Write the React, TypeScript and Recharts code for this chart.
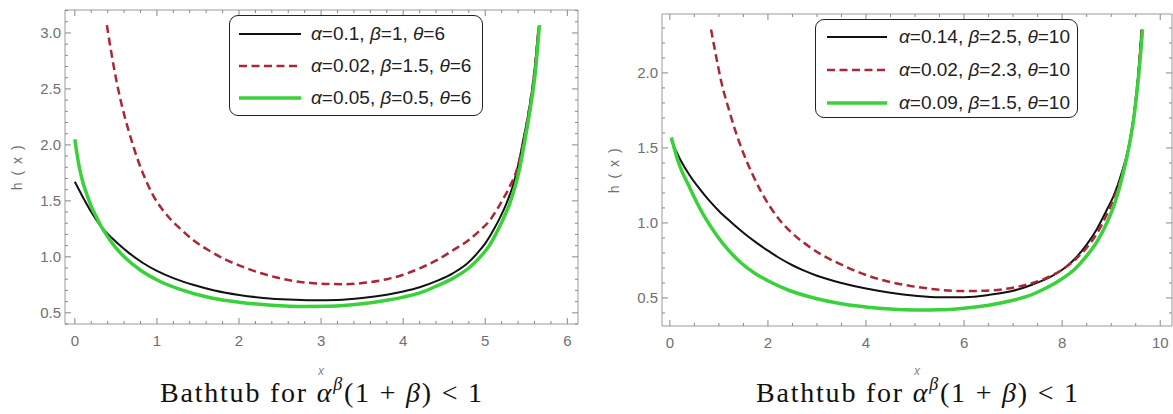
import React from 'react';
import { LineChart, Line, XAxis, YAxis, Legend } from 'recharts';

// ---- left panel, theta = 6 ----
const leftBlack = [
  [0, 1.67], [0.1, 1.53], [0.2, 1.4], [0.3, 1.29], [0.4, 1.205], [0.5, 1.135], [0.65, 1.04],
  [0.83, 0.945], [1.0, 0.875], [1.2, 0.81], [1.44, 0.75], [1.7, 0.7], [2.0, 0.66], [2.3, 0.633],
  [2.6, 0.618], [2.9, 0.612], [3.2, 0.615], [3.5, 0.632], [3.8, 0.662], [4.0, 0.69], [4.21, 0.73],
  [4.41, 0.785], [4.61, 0.855], [4.78, 0.94], [4.9, 1.03], [5.0, 1.12], [5.1, 1.24], [5.18, 1.35],
  [5.26, 1.48], [5.33, 1.62], [5.39, 1.78], [5.47, 2.07], [5.53, 2.3], [5.59, 2.6], [5.65, 3.05],
];
const leftRed = [
  [0.39, 3.07], [0.45, 2.8], [0.51, 2.56], [0.58, 2.33], [0.65, 2.14], [0.72, 1.97], [0.8, 1.8],
  [0.88, 1.66], [0.96, 1.54], [1.06, 1.43], [1.16, 1.34], [1.3, 1.24], [1.44, 1.15], [1.65, 1.05],
  [1.85, 0.97], [2.05, 0.91], [2.26, 0.855], [2.46, 0.815], [2.66, 0.785], [2.85, 0.768], [3.05, 0.758],
  [3.3, 0.756], [3.55, 0.77], [3.8, 0.8], [4.0, 0.84], [4.21, 0.9], [4.41, 0.97], [4.61, 1.06],
  [4.8, 1.15], [4.94, 1.24], [5.05, 1.32], [5.14, 1.42], [5.22, 1.52], [5.3, 1.63], [5.39, 1.79],
  [5.47, 2.05], [5.53, 2.3], [5.59, 2.6], [5.65, 3.05],
];
const leftGreen = [
  [0, 2.05], [0.03, 1.9], [0.06, 1.78], [0.1, 1.66], [0.15, 1.55], [0.2, 1.45], [0.26, 1.36],
  [0.33, 1.26], [0.4, 1.18], [0.5, 1.08], [0.63, 0.98], [0.8, 0.88], [1.04, 0.78], [1.3, 0.705],
  [1.65, 0.635], [2.0, 0.595], [2.4, 0.568], [2.8, 0.557], [3.1, 0.558], [3.5, 0.58], [3.8, 0.612],
  [4.0, 0.64], [4.21, 0.68], [4.41, 0.74], [4.61, 0.81], [4.8, 0.9], [4.94, 1.0], [5.05, 1.1],
  [5.14, 1.22], [5.22, 1.34], [5.3, 1.48], [5.36, 1.62], [5.41, 1.76], [5.49, 2.07], [5.55, 2.33],
  [5.61, 2.65], [5.66, 3.07],
];

// ---- right panel, theta = 10 ----
const rightBlack = [
  [0.03, 1.55], [0.2, 1.43], [0.4, 1.32], [0.6, 1.23], [0.8, 1.15], [1.0, 1.08], [1.25, 1.005],
  [1.5, 0.935], [1.75, 0.872], [2.0, 0.815], [2.25, 0.763], [2.5, 0.718], [2.75, 0.68], [3.0, 0.648],
  [3.5, 0.6], [4.0, 0.563], [4.5, 0.535], [5.0, 0.515], [5.5, 0.504], [6.0, 0.505], [6.5, 0.52],
  [7.0, 0.548], [7.4, 0.59], [7.76, 0.64], [8.05, 0.7], [8.3, 0.775], [8.5, 0.855], [8.71, 0.96],
  [8.9, 1.08], [9.05, 1.18], [9.2, 1.32], [9.35, 1.5], [9.45, 1.69], [9.54, 1.95], [9.62, 2.29],
];
const rightRed = [
  [0.84, 2.29], [0.95, 2.1], [1.05, 1.94], [1.2, 1.76], [1.33, 1.62], [1.5, 1.465], [1.67, 1.335],
  [1.85, 1.215], [2.05, 1.105], [2.25, 1.015], [2.5, 0.93], [2.8, 0.852], [3.1, 0.787], [3.5, 0.722],
  [3.8, 0.678], [4.3, 0.622], [4.8, 0.586], [5.3, 0.562], [5.9, 0.546], [6.4, 0.548], [6.94, 0.565],
  [7.4, 0.6], [7.76, 0.645], [8.05, 0.7], [8.3, 0.765], [8.5, 0.835], [8.71, 0.93], [8.9, 1.05],
  [9.05, 1.16], [9.2, 1.3], [9.35, 1.49], [9.45, 1.68], [9.54, 1.95], [9.62, 2.29],
];
const rightGreen = [
  [0.03, 1.57], [0.15, 1.43], [0.25, 1.34], [0.37, 1.26], [0.5, 1.17], [0.71, 1.04], [0.95, 0.92],
  [1.19, 0.82], [1.45, 0.735], [1.73, 0.665], [2.0, 0.615], [2.41, 0.553], [3.0, 0.495], [3.44, 0.465],
  [4.0, 0.44], [4.5, 0.426], [5.0, 0.42], [5.5, 0.421], [6.0, 0.432], [6.5, 0.452], [7.0, 0.485],
  [7.28, 0.51], [7.6, 0.555], [7.96, 0.62], [8.25, 0.69], [8.5, 0.78], [8.72, 0.88], [8.91, 1.0],
  [9.05, 1.11], [9.18, 1.25], [9.28, 1.38], [9.37, 1.52], [9.47, 1.72], [9.56, 1.98], [9.64, 2.29],
];

const leftNames = ['α=0.1, β=1, θ=6', 'α=0.02, β=1.5, θ=6', 'α=0.05, β=0.5, θ=6'];
const rightNames = ['α=0.14, β=2.5, θ=10', 'α=0.02, β=2.3, θ=10', 'α=0.09, β=1.5, θ=10'];

const leftXMajor = [0, 1, 2, 3, 4, 5, 6];
const leftYMajor = [0.5, 1.0, 1.5, 2.0, 2.5, 3.0];
const rightXMajor = [0, 2, 4, 6, 8, 10];
const rightYMajor = [0.5, 1.0, 1.5, 2.0];

const styles = [
  { color: '#111', width: 2, dash: undefined },
  { color: '#a8283a', width: 2.5, dash: '8 4.5' },
  { color: '#3ad13a', width: 3.5, dash: undefined },
];

const FRAME = '#9a9a9a';
const TICK = '#888';
const LABEL = '#707070';
const SANS = 'Liberation Sans, Arial, sans-serif';
const W = 1173;
const H = 414;

const steps = (a: number, b: number, s: number) => {
  const out: number[] = [];
  for (let v = a; v <= b + 1e-9; v += s) out.push(Math.round(v * 100) / 100);
  return out;
};

const toPts = (arr: number[][]) => arr.map(([x, y]) => ({ x, y }));

const fancy = (s: string) =>
  s.split(/([αβθ])/).map((p, i) =>
    /[αβθ]/.test(p) ? <i key={i}>{p}</i> : <span key={i}>{p}</span>
  );

const makeTick = (side: string, majors: number[], fmt: (v: number) => string) => (props: any) => {
  const { x, y, payload } = props;
  const v = payload.value;
  const major = majors.some((m) => Math.abs(m - v) < 1e-6);
  const len = major ? 6 : 3;
  let line;
  let label = null;
  if (side === 'bottom') {
    line = <line x1={x} y1={y} x2={x} y2={y - len} stroke={TICK} />;
    if (major) label = <text x={x} y={y + 22} textAnchor="middle" fill={LABEL} fontSize={15} fontFamily={SANS}>{fmt(v)}</text>;
  } else if (side === 'top') {
    line = <line x1={x} y1={y} x2={x} y2={y + len} stroke={TICK} />;
  } else if (side === 'left') {
    line = <line x1={x} y1={y} x2={x + len} y2={y} stroke={TICK} />;
    if (major) label = <text x={x - 4} y={y + 5} textAnchor="end" fill={LABEL} fontSize={15} fontFamily={SANS}>{fmt(v)}</text>;
  } else {
    line = <line x1={x} y1={y} x2={x - len} y2={y} stroke={TICK} />;
  }
  return <g>{line}{label}</g>;
};

type PanelProps = {
  left: number;
  width: number;
  plot: { l: number; r: number; t: number; b: number };
  xDomain: [number, number];
  yDomain: [number, number];
  xMajor: number[];
  yMajor: number[];
  xMinor: number[];
  yMinor: number[];
  series: number[][][];
  names: string[];
  legend: { left: number; top: number; w: number; h: number; rows: number[]; sampleL: number; sampleR: number; textL: number };
};

const Panel = (p: PanelProps) => {
  const xFmt = (v: number) => String(v);
  const yFmt = (v: number) => v.toFixed(1);
  const margin = { top: p.plot.t - 1, right: p.width - p.plot.r - 1, bottom: H - p.plot.b - 30, left: p.plot.l - 40 };
  const lg = p.legend;
  const renderLegend = () => (
    <div style={{ width: lg.w, height: lg.h, border: '1.6px solid #222', borderRadius: 9, background: '#fff', boxSizing: 'border-box', position: 'relative' }}>
      {p.names.map((n, i) => (
        <div key={n} style={{ position: 'absolute', left: 0, top: lg.rows[i] - 14, height: 28, width: lg.w - 4 }}>
          <svg width={lg.w - 4} height={28} style={{ position: 'absolute', left: 0, top: 0 }}>
            <line x1={lg.sampleL} x2={lg.sampleR} y1={14} y2={14} stroke={styles[i].color} strokeWidth={styles[i].width} strokeDasharray={styles[i].dash} />
          </svg>
          <span style={{ position: 'absolute', left: lg.textL, top: 3, fontFamily: SANS, fontSize: 19, lineHeight: '22px', color: '#222', whiteSpace: 'nowrap' }}>{fancy(n)}</span>
        </div>
      ))}
    </div>
  );
  return (
    <div style={{ position: 'absolute', left: p.left, top: 0 }}>
      <LineChart width={p.width} height={H} margin={margin}>
        <XAxis type="number" dataKey="x" domain={p.xDomain} allowDataOverflow ticks={p.xMinor} interval={0}
          height={30} tickSize={0} tickMargin={0} tickLine={false} axisLine={{ stroke: FRAME }}
          tick={makeTick('bottom', p.xMajor, xFmt)} />
        <XAxis xAxisId="top" orientation="top" type="number" dataKey="x" domain={p.xDomain} allowDataOverflow ticks={p.xMinor} interval={0}
          height={1} tickSize={0} tickMargin={0} tickLine={false} axisLine={{ stroke: FRAME }}
          tick={makeTick('top', p.xMajor, xFmt)} />
        <YAxis type="number" domain={p.yDomain} allowDataOverflow ticks={p.yMinor} interval={0}
          width={40} tickSize={0} tickMargin={0} tickLine={false} axisLine={{ stroke: FRAME }}
          tick={makeTick('left', p.yMajor, yFmt)} />
        <YAxis yAxisId="right" orientation="right" type="number" domain={p.yDomain} allowDataOverflow ticks={p.yMinor} interval={0}
          width={1} tickSize={0} tickMargin={0} tickLine={false} axisLine={{ stroke: FRAME }}
          tick={makeTick('right', p.yMajor, yFmt)} />
        {p.series.map((s, i) => (
          <Line key={i} data={toPts(s)} dataKey="y" name={p.names[i]} type="monotone" dot={false}
            stroke={styles[i].color} strokeWidth={styles[i].width} strokeDasharray={styles[i].dash}
            isAnimationActive={false} />
        ))}
        {/* invisible copy so the frame axes on top/right have a series to carry */}
        <Line data={toPts(p.series[0])} dataKey="y" xAxisId="top" yAxisId="right" stroke="none" dot={false}
          legendType="none" isAnimationActive={false} />
        <Legend layout="vertical" align="center" verticalAlign="middle" content={renderLegend}
          wrapperStyle={{ left: lg.left, top: lg.top, width: lg.w, height: lg.h }} />
      </LineChart>
    </div>
  );
};

const Labels = ({ cx, cy, labelX }: { cx: number; cy: number; labelX: number }) => (
  <g>
    <text x={labelX} y={cy} transform={`rotate(-90 ${labelX} ${cy})`} textAnchor="middle" fill={LABEL}
      fontSize={14} fontFamily={SANS} letterSpacing={1.5}>h ( x )</text>
    <text x={cx} y={375} textAnchor="middle" fill="#888" fontSize={12} fontStyle="italic" fontFamily={SANS}>x</text>
    <text x={cx} y={402} textAnchor="middle" fill="#111" fontSize={28} fontFamily="Liberation Serif, Times New Roman, serif"
      textLength={322} lengthAdjust="spacing">
      Bathtub for <tspan fontStyle="italic">α</tspan>
      <tspan fontStyle="italic" fontSize={18} dy={-12}>β</tspan>
      <tspan dy={12}>(1 + </tspan>
      <tspan fontStyle="italic">β</tspan>
      <tspan>) &lt; 1</tspan>
    </text>
  </g>
);

export default function App() {
  return (
    <div style={{ position: 'absolute', left: 0, top: 0, width: W, height: H, background: '#fff' }}>
      <Panel
        left={0} width={590}
        plot={{ l: 65, r: 578, t: 10, b: 324 }}
        xDomain={[-0.12, 6.13]} yDomain={[0.4, 3.205]}
        xMajor={leftXMajor} yMajor={leftYMajor}
        xMinor={steps(0, 6, 0.2)} yMinor={steps(0.4, 3.2, 0.1)}
        series={[leftBlack, leftRed, leftGreen]} names={leftNames}
        legend={{ left: 229, top: 15, w: 254, h: 101, rows: [18, 50, 82], sampleL: 9, sampleR: 71, textL: 81 }}
      />
      <Panel
        left={590} width={583}
        plot={{ l: 72, r: 582, t: 14, b: 326 }}
        xDomain={[-0.16, 10.24]} yDomain={[0.313, 2.393]}
        xMajor={rightXMajor} yMajor={rightYMajor}
        xMinor={steps(0, 10, 0.5)} yMinor={steps(0.4, 2.3, 0.1)}
        series={[rightBlack, rightRed, rightGreen]} names={rightNames}
        legend={{ left: 225, top: 19, w: 263, h: 99, rows: [17, 50, 83], sampleL: 11, sampleR: 71, textL: 83 }}
      />
      <svg width={W} height={H} style={{ position: 'absolute', left: 0, top: 0, pointerEvents: 'none' }}>
        <Labels cx={321} cy={167} labelX={22} />
        <Labels cx={917} cy={170} labelX={619} />
      </svg>
    </div>
  );
}
